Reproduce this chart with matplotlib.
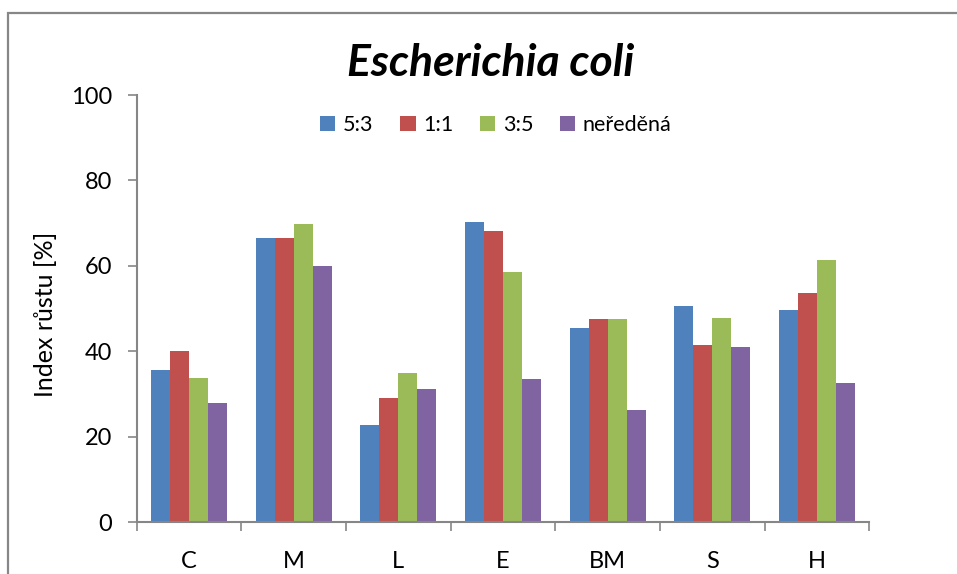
import matplotlib
matplotlib.use("Agg")
import matplotlib.pyplot as plt
import numpy as np
from matplotlib.patches import Rectangle

categories = ["C", "M", "L", "E", "BM", "S", "H"]
series_names = ["5:3", "1:1", "3:5", "neředěná"]
v_53 = [35.6, 66.6, 22.7, 70.2, 45.4, 50.6, 49.6]
v_11 = [40.0, 66.6, 29.0, 68.1, 47.5, 41.5, 53.6]
v_35 = [33.7, 69.9, 34.9, 58.5, 47.5, 47.7, 61.3]
v_ner = [27.9, 59.9, 31.2, 33.5, 26.2, 41.0, 32.6]
yticks = [0, 20, 40, 60, 80, 100]
colors = ["#4F81BD", "#C0504D", "#9BBB59", "#8064A2"]

plt.rcParams['font.family'] = ['Lato', 'DejaVu Sans']

W, H = 957, 574
fig = plt.figure(figsize=(W / 100, H / 100), dpi=100)
fig.patch.set_facecolor("white")

# outer chart border
fig.patches.append(Rectangle((8 / W, -0.05), 1.2, 1 - 13 / H + 0.05,
                             transform=fig.transFigure, fill=False,
                             edgecolor="#878787", linewidth=1.6))

ax = fig.add_axes([136.7 / W, 1 - 522.3 / H, 732.6 / W, 427.3 / H])
x = np.arange(len(categories))
bw = 0.1815
data = [v_53, v_11, v_35, v_ner]
for i, (vals, name, c) in enumerate(zip(data, series_names, colors)):
    ax.bar(x + (i - 1.5) * bw, vals, width=bw, color=c, label=name,
           linewidth=0)

ax.set_xlim(-0.5, len(categories) - 0.5)
ax.set_ylim(0, 100)
ax.set_yticks(yticks)
ax.set_yticklabels([str(t) for t in yticks])
ax.set_xticks(x)
ax.set_xticklabels(categories)
ax.set_xticks(np.arange(len(categories) + 1) - 0.5, minor=True)

for s in ["top", "right"]:
    ax.spines[s].set_visible(False)
for s in ["left", "bottom"]:
    ax.spines[s].set_color("#868686")
    ax.spines[s].set_linewidth(1.5)

ax.tick_params(axis="y", which="major", direction="out", length=6.8,
               width=1.2, color="#868686", labelsize=17, pad=11)
ax.tick_params(axis="x", which="major", length=0, labelsize=17, pad=21)
ax.tick_params(axis="x", which="minor", direction="out", length=6.8,
               width=1.2, color="#868686")

ax.set_ylabel("Index růstu [%]", fontsize=18, labelpad=10)
ax.yaxis.label.set_position((0, (522.3 - 314) / 427.3))

fig.text(491 / W, 1 - 63 / H, "Escherichia coli", ha="center", va="center",
         fontsize=32, fontweight="bold", fontstyle="italic")

leg = ax.legend(loc="center", bbox_to_anchor=((496 - 136.7) / 732.6, (522.3 - 125) / 427.3),
                ncol=4, frameon=False, fontsize=15.5, handlelength=0.7,
                handleheight=0.7, handletextpad=0.35, columnspacing=1.25,
                borderpad=0)

fig.savefig("out.png", dpi=100, facecolor="white")
